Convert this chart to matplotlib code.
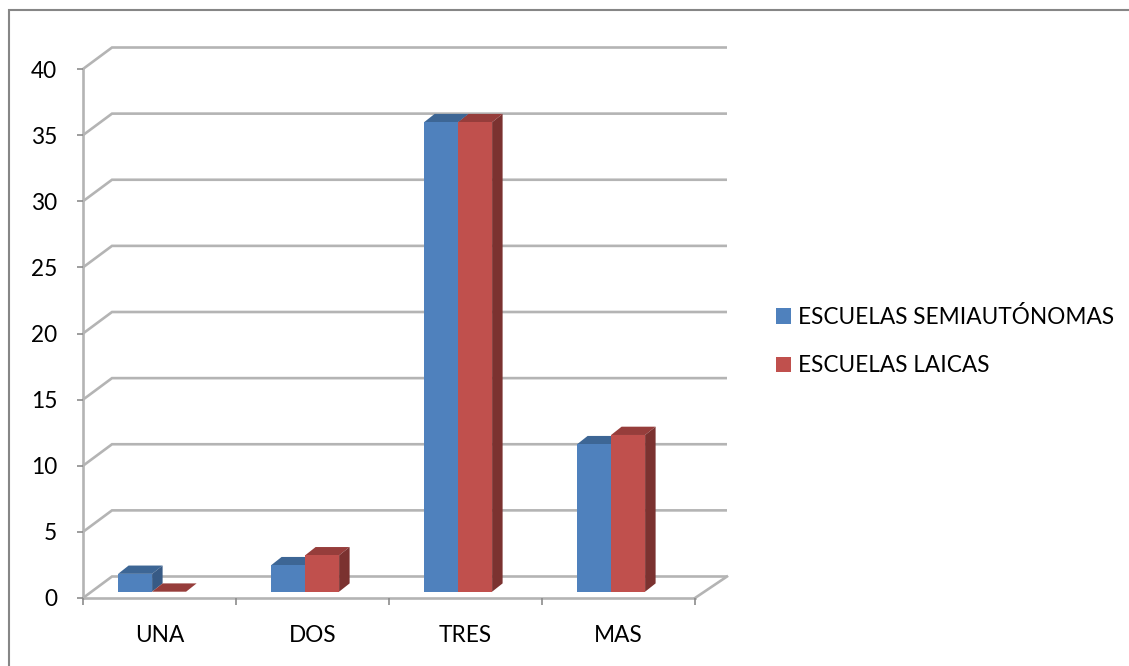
import matplotlib
matplotlib.use("Agg")
import matplotlib.pyplot as plt
from matplotlib.patches import Patch
from matplotlib.lines import Line2D
import numpy as np

categories = ["UNA", "DOS", "TRES", "MAS"]
semi = [1.35, 2.0, 35.5, 11.15]
laicas = [0.0, 2.75, 35.5, 11.85]
series_names = ["ESCUELAS SEMIAUTÓNOMAS", "ESCUELAS LAICAS"]
y_ticks = [0, 5, 10, 15, 20, 25, 30, 35, 40]

W, H = 1129, 666
FONT = "Lato"
FS = 16.3
GRID = "#B4B4B4"
BLUE, BLUE_TOP, BLUE_SIDE = "#4F81BD", "#3D6695", "#375A85"
RED, RED_TOP, RED_SIDE = "#C0504D", "#963D3B", "#7B3230"

plt.rcParams["font.family"] = [FONT, "DejaVu Sans"]
fig = plt.figure(figsize=(W / 100, H / 100), dpi=100, facecolor="white")
x0, x1, y0, y40 = 83, 695, 598, 69
ax = fig.add_axes([x0 / W, (H - y0) / H, (x1 - x0) / W, (y0 - y40) / H])
ax.set_xlim(0, len(categories))
ax.set_ylim(0, 40)
ax.patch.set_visible(False)

px_x = (x1 - x0) / len(categories)
px_y = (y0 - y40) / 40.0
wall_dx, wall_dx_r, wall_dy = 29 / px_x, 32 / px_x, 21.5 / px_y
bar_dx, bar_dy = 10.5 / px_x, 8.3 / px_y
bar_w = 34 / px_x
bar_base = 6.3 / px_y
bar_shift = -7.4 / px_x
lw = 1.9

# walls
for v in y_ticks:
    ax.plot([0, wall_dx, len(categories) + wall_dx_r],
            [v, v + wall_dy, v + wall_dy], color=GRID, lw=lw, clip_on=False, zorder=1,
            solid_capstyle="butt", solid_joinstyle="miter")
ax.plot([len(categories), len(categories) + wall_dx_r], [0, wall_dy],
        color=GRID, lw=lw, clip_on=False, zorder=1)


def draw_bar(xl, v, front, top, side, z):
    xr = xl + bar_w
    yb, yt = bar_base, bar_base + v
    ax.bar(xl, v, width=bar_w, bottom=bar_base, align="edge", color=front, lw=0,
           zorder=z + 0.2, clip_on=False)
    ax.fill([xl, xr, xr + bar_dx, xl + bar_dx], [yt, yt, yt + bar_dy, yt + bar_dy],
            color=top, lw=0, zorder=z, clip_on=False)
    ax.fill([xr, xr + bar_dx, xr + bar_dx, xr], [yb, yb + bar_dy, yt + bar_dy, yt],
            color=side, lw=0, zorder=z, clip_on=False)


for i in range(len(categories)):
    c = i + 0.5 + bar_shift
    draw_bar(c - bar_w, semi[i], BLUE, BLUE_TOP, BLUE_SIDE, 2 + i)
    draw_bar(c, laicas[i], RED, RED_TOP, RED_SIDE, 2.5 + i)

# axes
for s in ["top", "right"]:
    ax.spines[s].set_visible(False)
for s in ["left", "bottom"]:
    ax.spines[s].set_color(GRID)
    ax.spines[s].set_linewidth(lw)
    ax.spines[s].set_zorder(1.5)
ax.set_yticks(y_ticks)
ax.set_yticklabels([str(v) for v in y_ticks], fontsize=FS, color="black")
ax.tick_params(axis="y", length=4, width=1.2, color="#8C8C8C", pad=14.5)
ax.set_xticks(np.arange(len(categories)) + 0.5)
ax.set_xticklabels(categories, fontsize=FS, color="black")
ax.set_xticks(np.arange(len(categories) + 1), minor=True)
ax.tick_params(axis="x", which="major", length=0, pad=19.5)
ax.tick_params(axis="x", which="minor", length=5, width=1.2, color="#8C8C8C")

# picture border: top and left only
fig.add_artist(Line2D([8.5 / W, 8.5 / W, 1], [0, 1 - 10 / H, 1 - 10 / H], color="#868686", lw=1.5,
                      solid_joinstyle="miter"))

handles = [Patch(facecolor=BLUE, lw=0), Patch(facecolor=RED, lw=0)]
fig.legend(handles, series_names, loc="upper left", bbox_to_anchor=(776 / W, 1 - 306 / H),
           frameon=False, fontsize=FS, handlelength=0.66, handleheight=0.66,
           handletextpad=0.31, labelspacing=1.2, borderpad=0, borderaxespad=0)

fig.savefig("out.png", dpi=100, facecolor="white")
